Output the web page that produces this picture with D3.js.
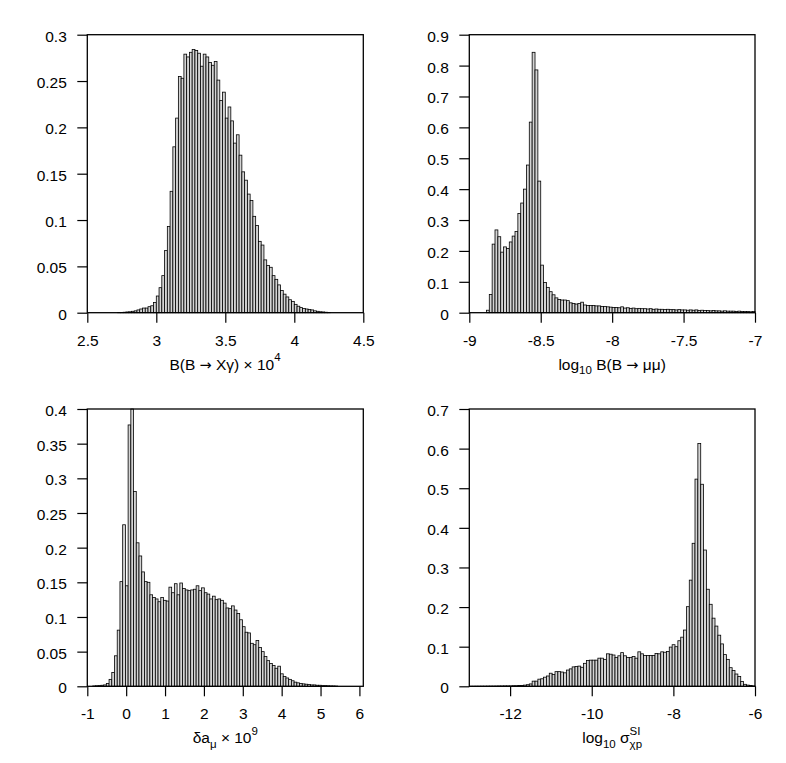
<!DOCTYPE html>
<html>
<head>
<meta charset="utf-8">
<script src="https://cdn.jsdelivr.net/npm/d3@7"></script>
<style>
  body { margin: 0; background: #fff; }
  text { font-family: "Liberation Sans", Arial, Helvetica, sans-serif; fill: #000; }
</style>
</head>
<body>
<div id="chart"></div>
<script>
// histogram bins: first bin edge and bin width, then one value per bin
const bsgStart = 2.5, bsgStep = 0.02;
const bsgValues = [
  0, 0, 0, 0, 0, 0, 0, 0, 0, 0,
  0, 0.0002, 0.0003, 0.0005, 0.0008, 0.001, 0.0015, 0.002, 0.003, 0.004,
  0.005, 0.005, 0.0065, 0.0075, 0.011, 0.018, 0.027, 0.040, 0.067, 0.093,
  0.131, 0.179, 0.210, 0.255, 0.253, 0.279, 0.276, 0.281, 0.284, 0.283,
  0.280, 0.266, 0.279, 0.276, 0.270, 0.267, 0.271, 0.251, 0.229, 0.238,
  0.210, 0.222, 0.207, 0.183, 0.192, 0.170, 0.152, 0.143, 0.128, 0.121,
  0.104, 0.094, 0.077, 0.073, 0.057, 0.051, 0.049, 0.040, 0.036, 0.030,
  0.024, 0.020, 0.017, 0.014, 0.012, 0.009, 0.007, 0.0055, 0.0045, 0.004,
  0.0035, 0.003, 0.002, 0.0015, 0.001, 0.0008, 0.0005, 0.0003, 0, 0,
  0, 0, 0, 0, 0, 0, 0, 0, 0, 0
];
const bsgXTicks = [2.5, 3, 3.5, 4, 4.5];
const bsgYTicks = [0, 0.05, 0.1, 0.15, 0.2, 0.25, 0.3];
const bsgTitle = [['B(B '], ['\u2192', 'sym'], [' X\u03b3) \u00d7 10'], ['4', 'sup']];

const bmumuStart = -9, bmumuStep = 0.02;
const bmumuValues = [
  0, 0, 0, 0, 0, 0, 0.008, 0.059, 0.222, 0.268,
  0.246, 0.196, 0.213, 0.208, 0.229, 0.248, 0.263, 0.321, 0.355, 0.400,
  0.478, 0.617, 0.843, 0.786, 0.426, 0.154, 0.098, 0.082, 0.068, 0.058,
  0.048, 0.043, 0.041, 0.041, 0.039, 0.032, 0.030, 0.028, 0.030, 0.034,
  0.025, 0.023, 0.023, 0.023, 0.022, 0.022, 0.020, 0.020, 0.019, 0.018,
  0.017, 0.017, 0.016, 0.019, 0.015, 0.016, 0.014, 0.015, 0.013, 0.014,
  0.013, 0.013, 0.012, 0.013, 0.011, 0.012, 0.011, 0.011, 0.010, 0.011,
  0.010, 0.010, 0.009, 0.010, 0.009, 0.009, 0.008, 0.009, 0.008, 0.009,
  0.007, 0.008, 0.007, 0.007, 0.006, 0.007, 0.006, 0.006, 0.005, 0.006,
  0.005, 0.005, 0.005, 0.004, 0.005, 0.004, 0.004, 0.004, 0.003, 0.004
];
const bmumuXTicks = [-9, -8.5, -8, -7.5, -7];
const bmumuYTicks = [0, 0.1, 0.2, 0.3, 0.4, 0.5, 0.6, 0.7, 0.8, 0.9];
const bmumuTitle = [['log'], ['10', 'sub'], [' B(B '], ['\u2192', 'sym'], [' \u03bc\u03bc)']];

const amuStart = -1, amuStep = 0.07;
const amuValues = [
  0, 0, 0.0005, 0.0008, 0.001, 0.0015, 0.002, 0.004, 0.010, 0.020,
  0.044, 0.081, 0.151, 0.233, 0.145, 0.377, 0.400, 0.281, 0.207, 0.188,
  0.165, 0.151, 0.150, 0.132, 0.128, 0.126, 0.122, 0.128, 0.124, 0.123,
  0.143, 0.135, 0.148, 0.132, 0.149, 0.141, 0.139, 0.138, 0.139, 0.140,
  0.145, 0.138, 0.142, 0.135, 0.133, 0.126, 0.130, 0.125, 0.126, 0.124,
  0.120, 0.113, 0.112, 0.116, 0.110, 0.105, 0.096, 0.086, 0.078, 0.077,
  0.062, 0.060, 0.066, 0.056, 0.050, 0.043, 0.037, 0.033, 0.030, 0.026,
  0.029, 0.018, 0.014, 0.012, 0.010, 0.008, 0.006, 0.005, 0.004, 0.0035,
  0.003, 0.0025, 0.002, 0.002, 0.0015, 0.0015, 0.001, 0.001, 0.0008, 0.0006,
  0.0005, 0.0003, 0, 0, 0, 0, 0, 0, 0, 0
];
const amuXTicks = [-1, 0, 1, 2, 3, 4, 5, 6];
const amuYTicks = [0, 0.05, 0.1, 0.15, 0.2, 0.25, 0.3, 0.35, 0.4];
const amuTitle = [['\u03b4a'], ['\u03bc', 'sub'], [' \u00d7 10'], ['9', 'sup']];

const sigmaStart = -13, sigmaStep = 0.07;
const sigmaValues = [
  0.0001, 0.0001, 0.0002, 0.0002, 0.0003, 0.0003, 0.0004, 0.0005, 0.0005, 0.0006,
  0.0008, 0.0008, 0.001, 0.001, 0.001, 0.0015, 0.0015, 0.002, 0.002, 0.003,
  0.004, 0.006, 0.013, 0.013, 0.018, 0.019, 0.023, 0.026, 0.033, 0.030,
  0.037, 0.037, 0.036, 0.034, 0.041, 0.044, 0.049, 0.050, 0.051, 0.048,
  0.058, 0.065, 0.066, 0.066, 0.066, 0.071, 0.071, 0.068, 0.082, 0.081,
  0.079, 0.073, 0.077, 0.085, 0.077, 0.073, 0.073, 0.075, 0.071, 0.087,
  0.082, 0.078, 0.078, 0.078, 0.078, 0.083, 0.082, 0.087, 0.086, 0.088,
  0.099, 0.105, 0.100, 0.115, 0.124, 0.142, 0.201, 0.268, 0.361, 0.523,
  0.613, 0.510, 0.344, 0.245, 0.207, 0.172, 0.152, 0.129, 0.107, 0.080,
  0.068, 0.047, 0.040, 0.031, 0.025, 0.012, 0.005, 0.003, 0.002, 0.001
];
const sigmaXTicks = [-12, -10, -8, -6];
const sigmaYTicks = [0, 0.1, 0.2, 0.3, 0.4, 0.5, 0.6, 0.7];
const sigmaTitle = [['log'], ['10', 'sub'], [' \u03c3'], ['SI', 'sup'], ['\u03c7p', 'under']];

const FONT = 15.5, SMALL = 11.5;

const svg = d3.select('#chart')
  .append('svg')
  .attr('width', 786)
  .attr('height', 763);

const panels = [
  { values: bsgValues, start: bsgStart, step: bsgStep, xDomain: [2.5, 4.5], yMax: 0.3,
    xTicks: bsgXTicks, yTicks: bsgYTicks, title: bsgTitle,
    left: 87.3, right: 363.3, top: 34.7, bottom: 312.7 },
  { values: bmumuValues, start: bmumuStart, step: bmumuStep, xDomain: [-9, -7], yMax: 0.9,
    xTicks: bmumuXTicks, yTicks: bmumuYTicks, title: bmumuTitle,
    left: 469.3, right: 755, top: 34.7, bottom: 312.7 },
  { values: amuValues, start: amuStart, step: amuStep, xDomain: [-1, 6.1], yMax: 0.4,
    xTicks: amuXTicks, yTicks: amuYTicks, title: amuTitle,
    left: 87.3, right: 363.3, top: 409, bottom: 686.3 },
  { values: sigmaValues, start: sigmaStart, step: sigmaStep, xDomain: [-13, -6], yMax: 0.7,
    xTicks: sigmaXTicks, yTicks: sigmaYTicks, title: sigmaTitle,
    left: 469.3, right: 755, top: 409, bottom: 686.3 }
];

panels.forEach(p => {
  const x = d3.scaleLinear().domain(p.xDomain).range([p.left, p.right]);
  const y = d3.scaleLinear().domain([0, p.yMax]).range([p.bottom, p.top]);
  const g = svg.append('g');

  const bins = p.values.map((v, i) => ({ x0: p.start + i * p.step, x1: p.start + (i + 1) * p.step, v: v }));

  g.append('g')
    .selectAll('rect')
    .data(bins.filter(d => d.v > 0))
    .enter()
    .append('rect')
    .attr('x', d => x(d.x0))
    .attr('width', d => x(d.x1) - x(d.x0))
    .attr('y', d => y(d.v))
    .attr('height', d => y(0) - y(d.v))
    .attr('fill', '#d4d4d4')
    .attr('stroke', '#000')
    .attr('stroke-width', 0.8);

  const xAxis = d3.axisBottom(x)
    .tickValues(p.xTicks)
    .tickSize(10)
    .tickPadding(12)
    .tickSizeOuter(0)
    .tickFormat(d => String(d));
  const gx = g.append('g')
    .attr('transform', `translate(0,${p.bottom})`)
    .call(xAxis);
  gx.select('.domain').remove();

  const yAxis = d3.axisLeft(y)
    .tickValues(p.yTicks)
    .tickSize(10)
    .tickPadding(10.5)
    .tickSizeOuter(0)
    .tickFormat(d => String(d));
  const gy = g.append('g')
    .attr('transform', `translate(${p.left},0)`)
    .call(yAxis);
  gy.select('.domain').remove();
  gy.selectAll('text').attr('dy', '0.42em');

  g.selectAll('.tick line').attr('stroke', '#000').attr('stroke-width', 1.2);
  g.selectAll('.tick text')
    .attr('font-size', FONT)
    .attr('font-family', '"Liberation Sans", Arial, Helvetica, sans-serif');

  g.append('rect')
    .attr('x', p.left)
    .attr('y', p.top)
    .attr('width', p.right - p.left)
    .attr('height', p.bottom - p.top)
    .attr('fill', 'none')
    .attr('stroke', '#000')
    .attr('stroke-width', 1.3);

  // axis title with sub/superscripts, baseline 57px under the axis
  const t = g.append('text')
    .attr('x', 0)
    .attr('y', p.bottom + 57)
    .attr('font-size', FONT);
  let shift = 0, lastLen = 0;
  p.title.forEach(([s, kind]) => {
    const base = kind === 'sup' ? -8.5 : (kind === 'sub' || kind === 'under') ? 4.5 : 0;
    const small = kind === 'sup' || kind === 'sub' || kind === 'under';
    const span = t.append('tspan')
      .attr('dy', base - shift)
      .attr('font-size', small ? SMALL : FONT)
      .text(s);
    if (kind === 'sym') span.attr('font-family', '"DejaVu Sans", sans-serif').attr('font-size', FONT - 1);
    if (kind === 'under') span.attr('dx', -lastLen);
    lastLen = span.node().getComputedTextLength();
    shift = base;
  });
  const bb = t.node().getBBox();
  t.attr('x', (p.left + p.right) / 2 - (bb.x + bb.width / 2));
});
</script>
</body>
</html>
